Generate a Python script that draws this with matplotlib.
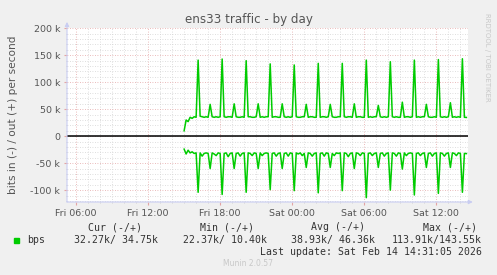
import numpy as np
import pandas as pd
import matplotlib
matplotlib.use("Agg")
import matplotlib.pyplot as plt
import matplotlib.dates as mdates
from matplotlib.ticker import FuncFormatter, MultipleLocator


# ens33 traffic, 10 minute samples from Fri 15:00 (values in kbit/s)
start = "2026-02-13 15:00"

out_k = [
    10, 30, 27, 35, 33, 36, 35,
    141, 37, 36, 35, 36, 35, 59, 36, 35, 36, 35, 36,
    143, 36, 35, 36, 36, 35, 60, 36, 35, 35, 36, 35,
    140, 36, 36, 35, 35, 36, 60, 35, 36, 35, 36, 36,
    134, 35, 36, 36, 35, 35, 60, 36, 35, 36, 35, 36,
    132, 36, 35, 35, 36, 36, 59, 35, 36, 36, 35, 35,
    135, 35, 36, 36, 35, 36, 59, 36, 35, 35, 36, 36,
    135, 36, 35, 36, 36, 35, 60, 35, 36, 36, 35, 35,
    141, 35, 36, 35, 36, 36, 57, 36, 35, 36, 35, 36,
    138, 36, 35, 36, 35, 35, 63, 35, 36, 36, 35, 36,
    141, 35, 36, 35, 36, 36, 59, 36, 35, 35, 36, 35,
    142, 36, 35, 36, 35, 36, 62, 35, 36, 35, 36, 35,
    143.5, 35, 34.75,
]

in_k = [
    24, 33, 26, 31, 29, 32, 31,
    104, 31, 37, 32, 31, 32, 60, 31, 33, 36, 31, 32,
    108, 32, 31, 38, 32, 31, 60, 32, 31, 37, 32, 31,
    104, 31, 32, 36, 31, 32, 60, 31, 36, 32, 31, 32,
    99, 32, 31, 37, 32, 31, 60, 32, 31, 37, 31, 32,
    101, 31, 33, 31, 36, 32, 58, 31, 32, 37, 32, 31,
    105, 32, 31, 37, 31, 32, 58, 32, 36, 31, 32, 31,
    101, 31, 32, 38, 32, 31, 60, 31, 32, 36, 31, 32,
    114, 32, 31, 36, 32, 31, 58, 32, 31, 37, 32, 31,
    100, 31, 32, 37, 31, 32, 61, 31, 36, 32, 31, 32,
    109, 32, 31, 36, 32, 31, 58, 32, 31, 37, 32, 31,
    106, 31, 32, 37, 32, 31, 58, 31, 32, 36, 31, 32,
    104, 32, 32.27,
]

# legend statistics (in / out)
stat_names = ["Cur", "Min", "Avg", "Max"]
stat_in = [32.27, 22.37, 38.93, 113.91]
stat_out = [34.75, 10.40, 46.36, 143.55]
last_update = "Last update: Sat Feb 14 14:31:05 2026"

GREEN = "#00cc00"
AXIS = "#c9cdf2"


def ytick(v, pos):
    if v == 0:
        return "0"
    return "%d k" % (v / 1000)


def plot():
    times = pd.date_range(start, periods=len(out_k), freq="10min")
    out_bps = np.array(out_k) * 1000
    in_bps = -np.array(in_k) * 1000

    fig = plt.figure(figsize=(4.97, 2.75), dpi=100, facecolor="#f0f0f0")
    ax = fig.add_axes([67 / 497, 73 / 275, 401 / 497, 174 / 275])
    ax.set_facecolor("white")

    ax.plot(times, out_bps, color=GREEN, lw=1.1)
    ax.plot(times, in_bps, color=GREEN, lw=1.1)
    ax.axhline(0, color="black", lw=1.1, zorder=3)

    ax.set_xlim(pd.Timestamp("2026-02-13 05:15"), pd.Timestamp("2026-02-14 14:38"))
    ax.set_ylim(-122000, 200500)

    ax.xaxis.set_major_locator(mdates.HourLocator(byhour=[0, 6, 12, 18]))
    ax.xaxis.set_minor_locator(mdates.HourLocator())
    ax.xaxis.set_major_formatter(mdates.DateFormatter("%a %H:%M"))
    ax.yaxis.set_major_locator(MultipleLocator(50000))
    ax.yaxis.set_minor_locator(MultipleLocator(10000))
    ax.yaxis.set_major_formatter(FuncFormatter(ytick))

    ax.grid(which="minor", color="#d4d4d4", ls=(0, (1, 2)), lw=0.6)
    ax.grid(which="major", color="#e3a4a4", ls=(0, (1, 2)), lw=0.6)
    ax.set_axisbelow(True)

    ax.tick_params(which="major", length=2, color="#e3a4a4", labelsize=6.8,
                   labelcolor="#555555", pad=3)
    ax.tick_params(which="minor", length=1, color="#cccccc")
    for s in ax.spines.values():
        s.set_visible(False)

    # munin style axes with arrows
    ax.annotate("", xy=(1.012, 0), xytext=(0, 0), xycoords="axes fraction",
                arrowprops=dict(arrowstyle="-|>", color=AXIS, lw=0.8,
                                mutation_scale=6, shrinkA=0, shrinkB=0))
    ax.annotate("", xy=(0, 1.035), xytext=(0, 0), xycoords="axes fraction",
                arrowprops=dict(arrowstyle="-|>", color=AXIS, lw=0.8,
                                mutation_scale=6, shrinkA=0, shrinkB=0))

    ax.set_ylabel("bits in (-) / out (+) per second", fontsize=7.6,
                  color="#555555")
    ax.yaxis.set_label_coords(-49 / 401, 0.5)
    fig.text(0.5, 1 - 19 / 275, "ens33 traffic - by day", ha="center",
             va="center", fontsize=8.6, color="#555555")
    fig.text(487 / 497, 1 - 57 / 275, "RRDTOOL / TOBI OETIKER", rotation=270,
             ha="center", va="center", fontsize=5, color="#c8c8c8")

    # legend block
    mono = dict(family="DejaVu Sans Mono", fontsize=7.1, color="#333333",
                va="center")
    head_x = [142, 254, 365, 477]
    val_x = [158, 267, 375, 482]
    for i in range(len(stat_names)):
        fig.text(head_x[i] / 497, 1 - 227 / 275, stat_names[i] + " (-/+)",
                 ha="right", **mono)
        fig.text(val_x[i] / 497, 1 - 240 / 275,
                 "%6.2fk/%6.2fk" % (stat_in[i], stat_out[i]), ha="right", **mono)
    fig.patches.append(plt.Rectangle((14 / 497, 1 - 243 / 275), 5 / 497, 5 / 275,
                                     transform=fig.transFigure, color=GREEN))
    fig.text(27 / 497, 1 - 240 / 275, "bps", ha="left", **mono)
    fig.text(482 / 497, 1 - 252 / 275, last_update, ha="right", **mono)
    fig.text(248 / 497, 1 - 264 / 275, "Munin 2.0.57", ha="center", va="center",
             fontsize=5.5, color="#c8c8c8")

    fig.savefig("out.png", dpi=100, facecolor=fig.get_facecolor())


if __name__ == "__main__":
    plot()
